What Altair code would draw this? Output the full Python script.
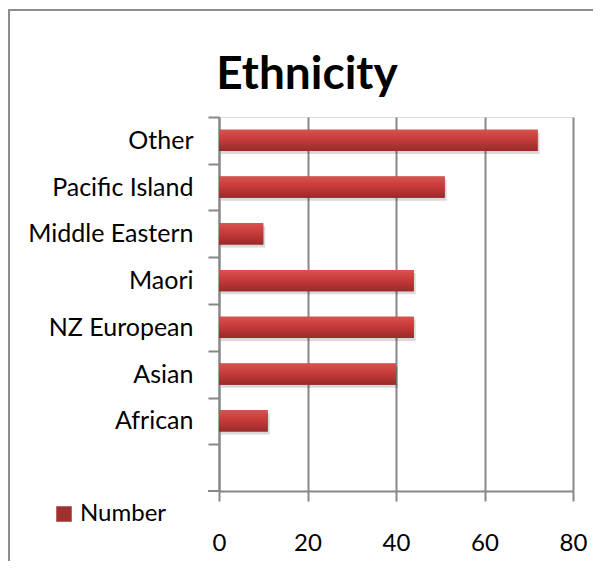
import altair as alt
import pandas as pd

categories = ["Other", "Pacific Island", "Middle Eastern", "Maori", "NZ European", "Asian", "African"]
values = [72, 51, 10, 44, 44, 40, 11]
series = ["Number"] * len(categories)
x_ticks = [0, 20, 40, 60, 80]
title_text = "Ethnicity"

df = pd.DataFrame({"category": categories, "value": values, "series": series})
domain = categories + [""]

W, H = 354, 374
STEP = H / len(domain)
FONT = "Lato"
GRID = "#878787"

y_enc = alt.Y(
    "category:N",
    scale=alt.Scale(domain=domain, paddingInner=0.55, paddingOuter=0.275),
    axis=alt.Axis(
        title=None, bandPosition=0.5, tickOffset=-STEP / 2, labelOffset=STEP / 2,
        tickSize=11, labelPadding=15,
        labelFontSize=25, labelFont=FONT, labelColor="black",
        domainColor=GRID, tickColor=GRID, domainWidth=2, tickWidth=2,
        grid=False, labelLimit=300,
    ),
)
x_enc = alt.X(
    "value:Q",
    scale=alt.Scale(domain=[0, 80], nice=False),
    axis=alt.Axis(
        title=None, values=x_ticks, tickSize=10, labelPadding=30,
        labelFontSize=24, labelFont=FONT, labelColor="black",
        grid=True, gridColor=GRID, gridWidth=2, gridOpacity=1,
        domainColor=GRID, tickColor=GRID, domainWidth=2, tickWidth=2,
        labelFlush=False,
    ),
)

base = alt.Chart(df)

shadow = base.mark_bar(color="black", opacity=0.15, xOffset=2, yOffset=3).encode(x=x_enc, y=y_enc)

legend_bars = base.mark_bar().encode(
    x=x_enc, y=y_enc,
    color=alt.Color(
        "series:N",
        scale=alt.Scale(range=["#A0302E"]),
        legend=alt.Legend(
            title=None, orient="none", legendX=-167, legendY=385,
            symbolType="square", symbolSize=240, symbolStrokeWidth=0,
            labelFontSize=24, labelFont=FONT, labelColor="black",
            labelOffset=4, padding=0,
        ),
    ),
)

grad = alt.LinearGradient(
    gradient="linear", x1=0, x2=0, y1=0, y2=1,
    stops=[
        alt.GradientStop(offset=0, color="#D9524E"),
        alt.GradientStop(offset=0.45, color="#C73B3B"),
        alt.GradientStop(offset=1, color="#9A2A2A"),
    ],
)
bars = base.mark_bar(color=grad).encode(x=x_enc, y=y_enc)

one = pd.DataFrame({"a": [0]})
frame = alt.Chart(one).mark_rect(fillOpacity=0, stroke="#8C8C8C", strokeWidth=2).encode(
    x=alt.value(-210), x2=alt.value(600), y=alt.value(-107), y2=alt.value(700)
)

bottom_tick = alt.Chart(one).mark_rule(color=GRID, strokeWidth=2).encode(
    x=alt.value(-11), x2=alt.value(0), y=alt.value(H)
)

chart = alt.layer(frame, shadow, legend_bars, bars, bottom_tick).properties(
    width=W, height=H,
    autosize=alt.AutoSizeParams(type="none"),
    padding={"left": 211, "top": 109, "right": 20, "bottom": 70},
    title=alt.TitleParams(
        text=title_text, font=FONT, fontSize=46, fontWeight="bold", color="black",
        anchor="middle", dx=-89, offset=0, dy=126, baseline="alphabetic",
    ),
).configure_view(stroke=None).configure(background="white")

chart.save("out.html", embed_options={"renderer": "svg", "actions": False})
